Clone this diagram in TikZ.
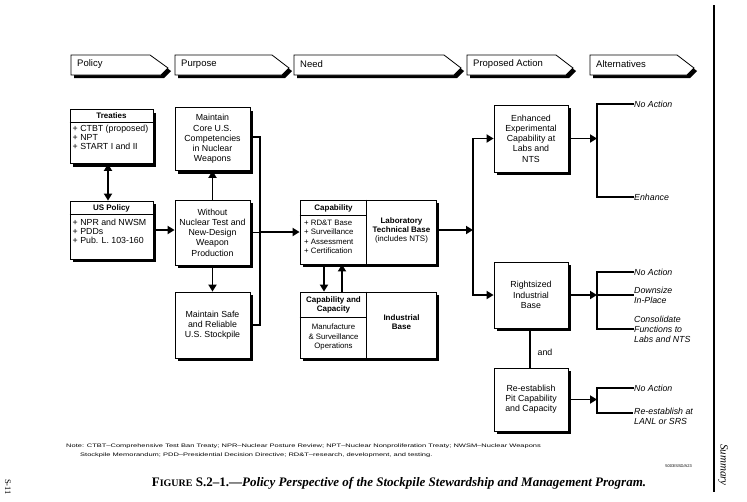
\documentclass[tikz,border=0pt]{standalone}
\usepackage{fontspec}
\setmainfont{Liberation Sans}
\newfontfamily\capserif{Liberation Serif}
\usepackage{graphicx}
\usetikzlibrary{arrows.meta,shadows,calc}
\tikzset{
  shad/.style={drop shadow={shadow xshift=3pt,shadow yshift=-3pt,opacity=1,fill=black}},
  box/.style={draw, line width=0.8pt, fill=white, shad, inner sep=0pt},
  banner/.style={draw, line width=0.8pt, fill=white, shad},
  bantext/.style={font=\fontsize{9.5}{11}\selectfont, inner sep=0pt, anchor=west},
  txt/.style={font=\fontsize{8.8}{10.2}\selectfont, align=center, inner sep=0pt},
  hdr/.style={font=\bfseries\fontsize{8}{9}\selectfont, align=center, inner sep=0pt},
  items/.style={font=\fontsize{8.8}{8.8}\selectfont, align=left, inner sep=0pt, anchor=north west},
  small/.style={font=\fontsize{7.8}{9.2}\selectfont, align=left, inner sep=0pt, anchor=north west},
  alt/.style={font=\itshape\fontsize{8.8}{10}\selectfont, align=left, inner sep=0pt, anchor=west},
  conn/.style={line width=1.8pt},
  arr/.style={conn, -{Triangle[length=7pt,width=8pt]}},
  dbl/.style={conn, {Triangle[length=7pt,width=8pt]}-{Triangle[length=7pt,width=8pt]}},
  thin/.style={line width=0.8pt}
}
\begin{document}
\begin{tikzpicture}[x=1pt,y=-1pt]
\useasboundingbox (0,0) rectangle (747,501);

% right margin rule
\coordinate (rt) at (714,5);
\coordinate (rb) at (714,492);
\draw[line width=1.2pt] (rt) -- (rb);

% banners
\foreach \xa/\xb/\xc/\lab/\nm in {71/150/168/Policy/bp, 175/272/289/Purpose/bq, 294/444/461/Need/bn, 467/556/573/Proposed Action/ba, 590/677/694/Alternatives/bl}{
  \path[banner] (\xa,55) -- (\xb,55) -- (\xc,68) -- (\xc-7,75) -- (\xa,75) -- cycle;
  \node[bantext] (\nm) at (\xa+6,64.5) {\lab};
}

% Policy column
\node[box, minimum width=83, minimum height=54] (treat) at (111.5,136.5) {};
\node[hdr] (treath) at (111.5,115.5) {Treaties};
\draw[thin] ($(treat.north west)+(0,13)$) -- ($(treat.north east)+(0,13)$);
\node[items] (treati) at (72.5,125) {+ CTBT (proposed)\\+ NPT\\+ START I and II};

\node[box, minimum width=83, minimum height=58] (uspol) at (111.5,230) {};
\node[hdr] (uspolh) at (111.5,208) {US Policy};
\draw[thin] ($(uspol.north west)+(0,14)$) -- ($(uspol.north east)+(0,14)$);
\node[items] (uspoli) at (72.5,219) {+ NPR and NWSM\\+ PDDs\\+ Pub. L. 103-160};

\draw[dbl] ([xshift=-3.5pt]treat.south) -- ([xshift=-3.5pt]uspol.north);

% Purpose column
\node[box, minimum width=75, minimum height=63] (core) at (212.5,139) {};
\node[txt] (coret) at (core) {Maintain\\Core U.S.\\Competencies\\in Nuclear\\Weapons};
\node[box, minimum width=75, minimum height=65] (without) at (212.5,232.5) {};
\node[txt] (withoutt) at (without) {Without\\Nuclear Test and\\New-Design\\Weapon\\Production};
\node[box, minimum width=75, minimum height=66] (safe) at (212.5,325) {};
\node[txt] (safet) at (safe) {Maintain Safe\\and Reliable\\U.S. Stockpile};

\draw[arr] (uspol.east) -- (uspol.east -| without.west);
\draw[arr] (without.north) -- (core.south);
\draw[arr] (without.south) -- (safe.north);

\coordinate (bus) at (260,232);
\draw[conn, line join=miter] ([yshift=2pt]core.east) -- ([yshift=2pt]core.east -| bus) -- (safe.east -| bus) -- (safe.east);
\draw[conn] (without.east) -- (without.east -| bus);

% Need column
\node[box, minimum width=136, minimum height=64] (cap) at (368,232) {};
\draw[thin] ($(cap.north west)+(67,0)$) -- ($(cap.south west)+(67,0)$);
\draw[thin] ($(cap.north west)+(0,16)$) -- ($(cap.north west)+(67,16)$);
\node[hdr] (caph) at (333.5,208) {Capability};
\node[small] (capi) at (304,220) {+ RD\&T Base\\+ Surveillance\\+ Assessment\\+ Certification};
\node[hdr] (labt) at (401.5,230) {Laboratory\\Technical Base\\\mdseries(includes NTS)};

\node[box, minimum width=136, minimum height=66] (ind) at (368,325) {};
\draw[thin] ($(ind.north west)+(67,0)$) -- ($(ind.south west)+(67,0)$);
\draw[thin] ($(ind.north west)+(0,26)$) -- ($(ind.north west)+(67,26)$);
\node[hdr] (indh) at (333.5,305) {Capability and\\Capacity};
\node[txt, font=\fontsize{7.8}{9.5}\selectfont] (indb) at (333.5,337) {Manufacture\\\& Surveillance\\Operations};
\node[hdr] (indr) at (401.5,322) {Industrial\\Base};

\draw[arr] (bus) -- (bus -| cap.west);
\draw[arr] ([xshift=-44pt]cap.south) -- ([xshift=-44pt]ind.north);
\draw[arr] ([xshift=-26pt]ind.north) -- ([xshift=-26pt]cap.south);

% Proposed action column
\node[box, minimum width=74, minimum height=67] (enh) at (531,138.5) {};
\node[txt] (enht) at (enh) {Enhanced\\Experimental\\Capability at\\Labs and\\NTS};
\node[box, minimum width=74, minimum height=66] (right) at (531,295) {};
\node[txt] (rightt) at (right) {Rightsized\\Industrial\\Base};
\node[box, minimum width=74, minimum height=63] (rees) at (531,399.5) {};
\node[txt] (reest) at (rees) {Re-establish\\Pit Capability\\and Capacity};

\coordinate (rbus) at (473,230);
\draw[arr] (cap.east |- rbus) -- (rbus);
\draw[conn, line cap=rect] (rbus |- enh.west) -- (rbus |- right.west);
\draw[arr] (rbus |- enh.west) -- (enh.west);
\draw[arr] (rbus |- right.west) -- (right.west);

\draw[conn] ([xshift=-1pt]right.south) -- ([xshift=-1pt]rees.north);
\node[txt] (andl) at (545,352) {and};

% Alternatives
\node[alt] (na1) at (634,104) {No Action};
\node[alt] (en1) at (634,197) {Enhance};
\coordinate (b1) at (597,138.5);
\draw[arr] (enh.east) -- (b1);
\draw[conn, line join=miter] (na1.west) -- (na1.west -| b1) -- (en1.west -| b1) -- (en1.west);

\node[alt] (na2) at (634,272) {No Action};
\node[alt] (ds2) at (634,295) {Downsize\\In-Place};
\node[alt] (co2) at (634,329) {Consolidate\\Functions to\\Labs and NTS};
\coordinate (b2) at (597,295);
\draw[arr] (right.east) -- (b2);
\draw[conn, line join=miter] (na2.west) -- (na2.west -| b2) -- (co2.west -| b2) -- (co2.west);
\draw[conn] (b2) -- (ds2.west);

\node[alt] (na3) at (634,388) {No Action};
\node[alt, anchor=north west] (re3) at (634,407.5) {Re-establish at\\LANL or SRS};
\coordinate (b3) at (597,399.5);
\coordinate (r3) at (633,413);
\draw[arr] (rees.east) -- (b3);
\draw[conn, line join=miter] (na3.west) -- (na3.west -| b3) -- (r3 -| b3) -- (r3);

% Note
\node[inner sep=0pt, anchor=west, font=\fontsize{5}{5.5}\selectfont] (note1) at (66,446) {\scalebox{1.5}[1]{Note: CTBT–Comprehensive Test Ban Treaty; NPR–Nuclear Posture Review; NPT–Nuclear Nonproliferation Treaty; NWSM–Nuclear Weapons}};
\node[inner sep=0pt, anchor=west, font=\fontsize{5}{5.5}\selectfont] (note2) at (80,455) {\scalebox{1.5}[1]{Stockpile Memorandum; PDD–Presidential Decision Directive; RD\&T–research, development, and testing.}};

\node[inner sep=0pt, anchor=east, font=\fontsize{4}{5}\selectfont] (code) at (692,466) {5003/SSD/A23};

% Caption
\node[inner sep=0pt, font=\capserif\bfseries\fontsize{13}{15}\selectfont] (cap1) at (399,483) {F{\fontsize{10}{12}\selectfont IGURE} S.2–1.—\itshape Policy Perspective of the Stockpile Stewardship and Management Program.};

\node[inner sep=0pt, rotate=-90, font=\capserif\itshape\fontsize{11}{12}\selectfont] (summ) at (723,465) {Summary};
\node[inner sep=0pt, rotate=-90, font=\capserif\fontsize{8.5}{9}\selectfont] (pg) at (8,487) {S-11};
\end{tikzpicture}
\end{document}
